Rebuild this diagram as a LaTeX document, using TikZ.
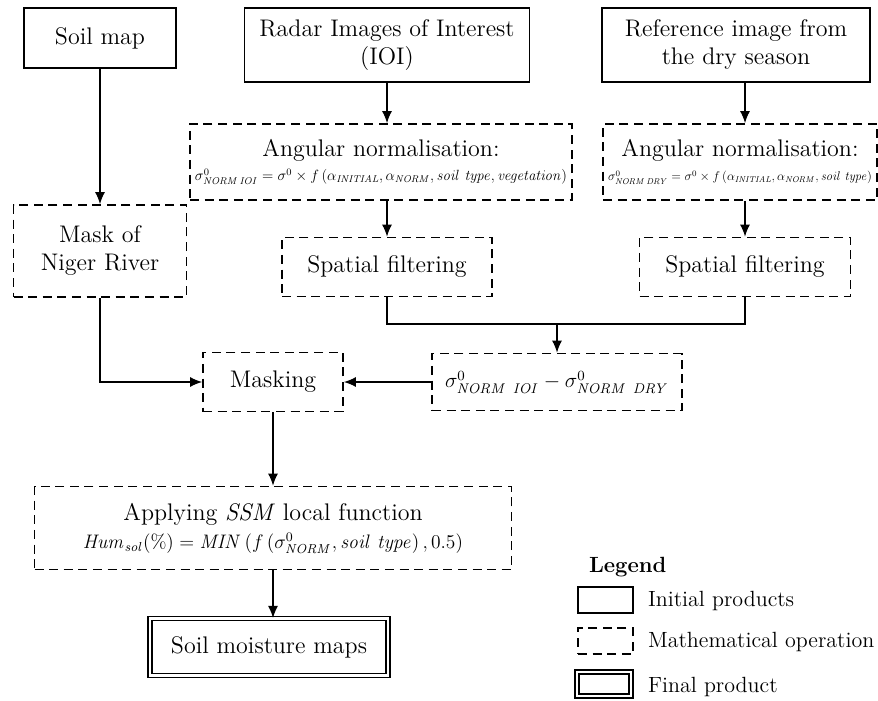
\documentclass[tikz,border=0pt]{standalone}
\usepackage{amsmath}
\usepackage{graphicx}
\usepackage{tikz}
\usetikzlibrary{arrows.meta}

\begin{document}
\begin{tikzpicture}[x=0.5pt,y=-0.5pt]

\tikzstyle{box_initial} = [draw=black, line width=0.6pt, align=center, inner sep=0pt, font=\fontsize{12}{14}\selectfont]
\tikzstyle{box_operation} = [draw=black, line width=0.9pt, dash pattern=on 4.5pt off 2.8pt, align=center, inner sep=0pt, font=\fontsize{12}{14}\selectfont]
\tikzstyle{box_final} = [draw=black, line width=0.6pt, double, double distance=1.4pt, align=center, inner sep=0pt, font=\fontsize{12}{14}\selectfont]
\tikzstyle{flow} = [-{Latex[length=6pt,width=5pt]}, line width=0.6pt]
\tikzstyle{link} = [line width=0.6pt]
\tikzstyle{legend_text} = [anchor=west, font=\fontsize{11}{13}\selectfont]

\useasboundingbox (0,0) rectangle (878,701);

%------------------------------------------------------------
	\node[box_initial, minimum width=76pt, minimum height=30pt] (soil) at (100,38) {Soil map};
	\node[box_initial, minimum width=142.5pt, minimum height=37pt] (radar) at (387,45) {Radar Images of Interest\\(IOI)};
	\node[box_initial, minimum width=134pt, minimum height=37pt] (ref) at (736,45) {Reference image from\\the dry season};

%------------------------------------------------------------
	\node[box_operation, minimum width=191pt, minimum height=38pt] (norm_ioi) at (381,162)
		{Angular normalisation:\\[-2pt]
		\resizebox{186pt}{!}{$\sigma^0_{\mathit{NORM\,IOI}} = \sigma^0 \times f\left(\alpha_{\mathit{INITIAL}}, \alpha_{\mathit{NORM}}, \mathit{soil\ type}, \mathit{vegetation}\right)$}};
	\node[box_operation, minimum width=137pt, minimum height=38pt] (norm_dry) at (740,162)
		{Angular normalisation:\\[-2pt]
		\resizebox{132pt}{!}{$\sigma^0_{\mathit{NORM\,DRY}} = \sigma^0 \times f\left(\alpha_{\mathit{INITIAL}}, \alpha_{\mathit{NORM}}, \mathit{soil\ type}\right)$}};

	\node[box_operation, minimum width=86.5pt, minimum height=46pt] (mask) at (100,251) {Mask of\\Niger River};
	\node[box_operation, minimum width=105pt, minimum height=29.5pt] (filt_ioi) at (387,267) {Spatial filtering};
	\node[box_operation, minimum width=105.5pt, minimum height=29.5pt] (filt_dry) at (745,267) {Spatial filtering};

%------------------------------------------------------------
	\node[box_operation, minimum width=70pt, minimum height=29.5pt] (masking) at (273,382) {Masking};
	\node[box_operation, minimum width=125pt, minimum height=28.5pt] (diff) at (557,382)
		{\resizebox{112pt}{!}{$\sigma^0_{\mathit{NORM\ IOI}} - \sigma^0_{\mathit{NORM\ DRY}}$}};
	\coordinate (join) at (557,324);

	\node[box_operation, minimum width=238.5pt, minimum height=41.5pt] (ssm) at (273,528)
		{Applying \textit{SSM} local function\\
		\resizebox{190pt}{!}{$\mathit{Hum}_{\mathit{sol}}(\%) = \mathit{MIN}\left(f\left(\sigma^0_{\mathit{NORM}}, \mathit{soil\ type}\right), 0.5\right)$}};
	\node[box_final, minimum width=119pt, minimum height=28.5pt] (maps) at (269,647) {Soil moisture maps};

%------------------------------------------------------------
	\draw[flow] (soil) -- (mask);
	\draw[flow] (radar) -- (radar |- norm_ioi.north);
	\draw[flow] (ref.south -| filt_dry) -- (norm_dry.north -| filt_dry);
	\draw[flow] (norm_ioi.south -| filt_ioi) -- (filt_ioi);
	\draw[flow] (norm_dry.south -| filt_dry) -- (filt_dry);

	\draw[link] (filt_ioi) |- (join) -| (filt_dry);
	\draw[flow] (join) -- (diff);
	\draw[flow] (diff) -- (masking);
	\draw[flow] (mask) |- (masking);
	\draw[flow] (masking) -- (ssm);
	\draw[flow] (ssm.south) -- (maps.north -| ssm.south);

%------------------------------------------------------------
	\node[anchor=west, font=\fontsize{11}{13}\selectfont\bfseries] (leg_title) at (582,567) {Legend};
	\node[box_initial, minimum width=27.5pt, minimum height=13pt] (leg_initial) at (605.5,600) {};
	\node[box_operation, minimum width=27.5pt, minimum height=13pt] (leg_operation) at (605.5,641) {};
	\node[box_final, minimum width=27pt, minimum height=12pt] (leg_final) at (604,684) {};
	\node[legend_text] at (641,601) {Initial products};
	\node[legend_text] at (641,642) {Mathematical operation};
	\node[legend_text] at (641,687) {Final product};

\end{tikzpicture}
\end{document}
